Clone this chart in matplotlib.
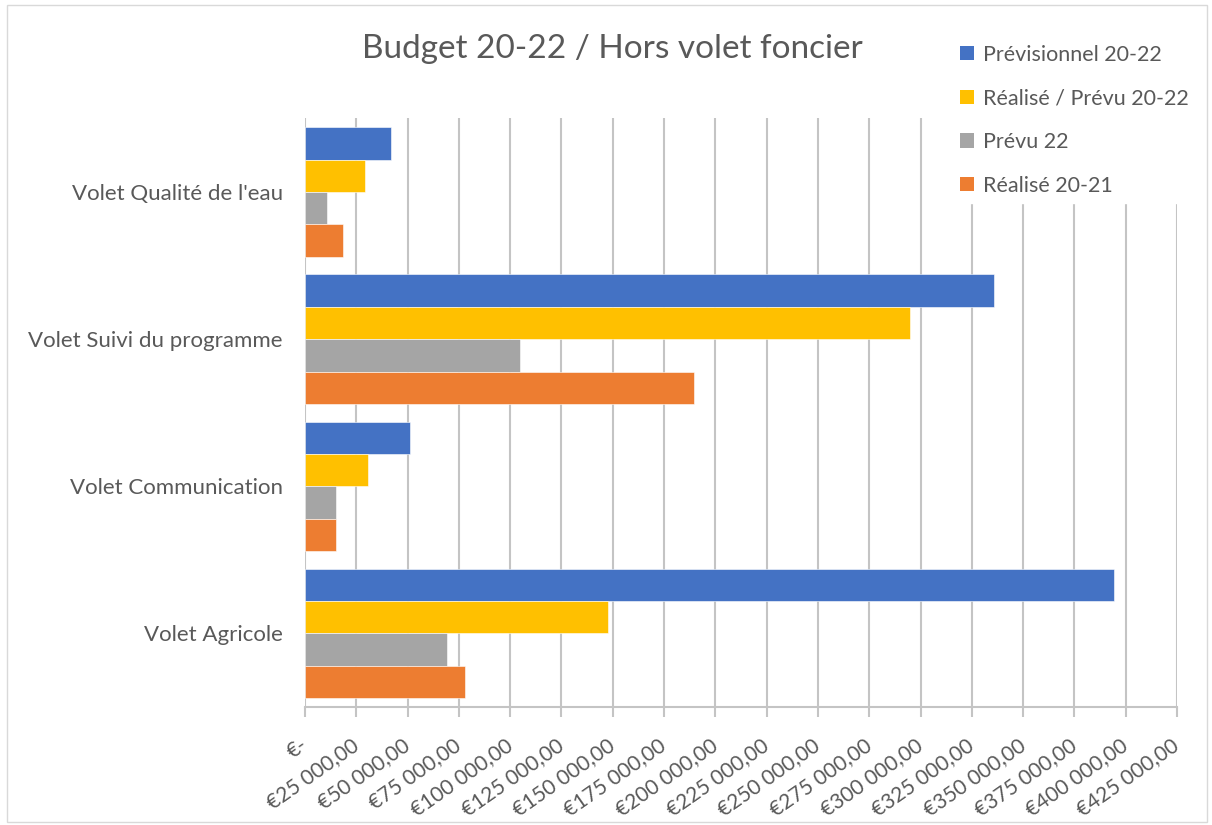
import matplotlib.pyplot as plt
from matplotlib.patches import Patch, Rectangle
import numpy as np

plt.rcParams['font.family'] = ['Lato', 'DejaVu Sans']

# budget lines, top to bottom
categories = ["Volet Qualité de l'eau", "Volet Suivi du programme",
              "Volet Communication", "Volet Agricole"]

series_names = ["Prévisionnel 20-22", "Réalisé / Prévu 20-22", "Prévu 22", "Réalisé 20-21"]
previsionnel = [41900, 335900, 51300, 394300]
realise_prevu = [29200, 294800, 30500, 147500]
prevu_22 = [10700, 104800, 15200, 69300]
realise_20_21 = [18400, 189600, 15000, 77800]

colors = ["#4472C4", "#FFC000", "#A5A5A5", "#ED7D31"]
text_col = "#595959"
grid_col = "#C4C4C4"

ticks = np.arange(0, 425001, 25000)

def euro(v):
    if v == 0:
        return "€-"
    return "€" + f"{v:,.2f}".replace(",", " ").replace(".", ",")

fig = plt.figure(figsize=(12.12, 8.25), dpi=100)
ax = fig.add_axes([305 / 1212, 1 - 707 / 825, (1177 - 305) / 1212, (707 - 118.5) / 825])

ypos = np.arange(len(categories))[::-1]
h = 0.22
all_series = [previsionnel, realise_prevu, prevu_22, realise_20_21]
offsets = [1.5 * h, 0.5 * h, -0.5 * h, -1.5 * h]
for vals, off, c in zip(all_series, offsets, colors):
    ax.barh(ypos + off, vals, height=h, color=c, edgecolor="white", linewidth=0.4, zorder=3)

ax.set_ylim(-0.5, 3.5)
ax.set_xlim(0, 425000)
ax.set_yticks(ypos)
ax.set_yticklabels(categories, fontsize=16, color=text_col)
ax.tick_params(axis="y", length=0, pad=16)

ax.set_xticks(ticks)
ax.set_xticklabels([euro(t) for t in ticks], rotation=35, ha="right", va="center",
                   rotation_mode="anchor", fontsize=15, color=text_col)
ax.tick_params(axis="x", length=7, width=1.5, color=grid_col, pad=19)

ax.grid(axis="x", color=grid_col, linewidth=1.5, zorder=0)
for s in ["top", "right", "left"]:
    ax.spines[s].set_visible(False)
ax.spines["bottom"].set_color(grid_col)
ax.spines["bottom"].set_linewidth(1.5)

fig.text(0.505, 0.94, "Budget 20-22 / Hors volet foncier", ha="center", va="center",
         fontsize=24, color=text_col)

handles = [Patch(facecolor=c, edgecolor="none") for c in colors]
leg = fig.legend(handles, series_names, loc="upper left", bbox_to_anchor=(0.7767, 0.968),
                 frameon=True, fontsize=15.5, labelcolor=text_col, handlelength=0.65,
                 handleheight=0.65, handletextpad=0.45, labelspacing=1.1, borderpad=0.35)
leg.get_frame().set_facecolor("white")
leg.get_frame().set_edgecolor("white")
leg.get_frame().set_alpha(1)

# chart border
fig.patches.append(Rectangle((0.006, 0.004), 0.99, 0.99, transform=fig.transFigure,
                             fill=False, edgecolor="#D9D9D9", linewidth=1))

fig.savefig("out.png", dpi=100)
